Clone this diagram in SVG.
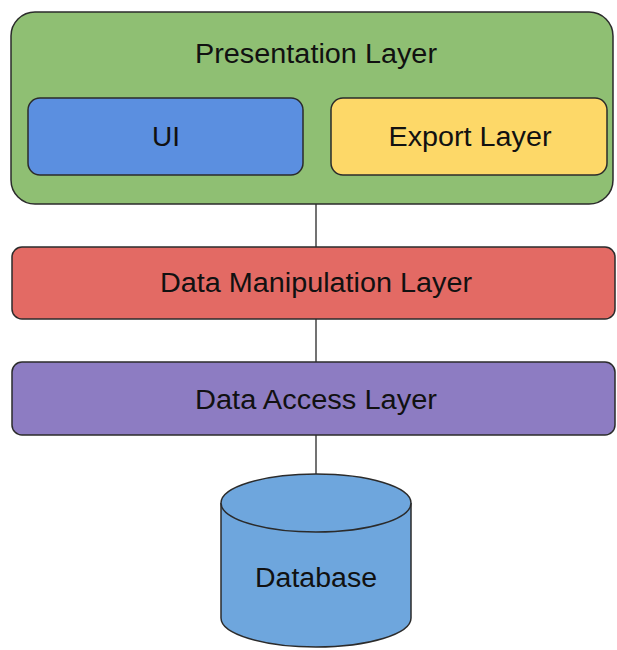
<svg xmlns="http://www.w3.org/2000/svg" width="617" height="650" viewBox="0 0 617 650">
<style>
.box{stroke:#2b2b2b;stroke-width:1.5}
.lbl{font-family:"Liberation Sans",Arial,sans-serif;font-size:27px;fill:#111;text-anchor:middle;dominant-baseline:central}
.conn{stroke:#444;stroke-width:1.5;fill:none}
</style>
<rect width="617" height="650" fill="#ffffff"/>
<g id="connectors">
<line class="conn" x1="316" y1="204" x2="316" y2="247"/>
<line class="conn" x1="316" y1="319" x2="316" y2="362"/>
<line class="conn" x1="316" y1="435" x2="316" y2="474"/>
</g>
<g id="presentation">
<rect class="box" x="11" y="12" width="602" height="192" rx="24" fill="#8fbf73"/>
<text class="lbl" x="316" y="54" textLength="242" lengthAdjust="spacingAndGlyphs">Presentation Layer</text>
</g>
<g id="ui">
<rect class="box" x="28" y="98" width="275" height="77" rx="12" fill="#5b8fe0"/>
<text class="lbl" x="166" y="137" textLength="28" lengthAdjust="spacingAndGlyphs">UI</text>
</g>
<g id="export">
<rect class="box" x="331" y="98" width="276" height="77" rx="12" fill="#fdd868"/>
<text class="lbl" x="470" y="137" textLength="163" lengthAdjust="spacingAndGlyphs">Export Layer</text>
</g>
<g id="manipulation">
<rect class="box" x="12" y="247" width="603" height="72" rx="10" fill="#e36a64"/>
<text class="lbl" x="316" y="283" textLength="312" lengthAdjust="spacingAndGlyphs">Data Manipulation Layer</text>
</g>
<g id="access">
<rect class="box" x="12" y="362" width="603" height="73" rx="10" fill="#8d7cc2"/>
<text class="lbl" x="316" y="400" textLength="242" lengthAdjust="spacingAndGlyphs">Data Access Layer</text>
</g>
<g id="database">
<path class="box" d="M221,503 L221,618 A95,29 0 0 0 411,618 L411,503" fill="#6ea6dd"/>
<ellipse class="box" cx="316" cy="503" rx="95" ry="29" fill="#6ea6dd"/>
<text class="lbl" x="316" y="578" textLength="122" lengthAdjust="spacingAndGlyphs">Database</text>
</g>
</svg>
